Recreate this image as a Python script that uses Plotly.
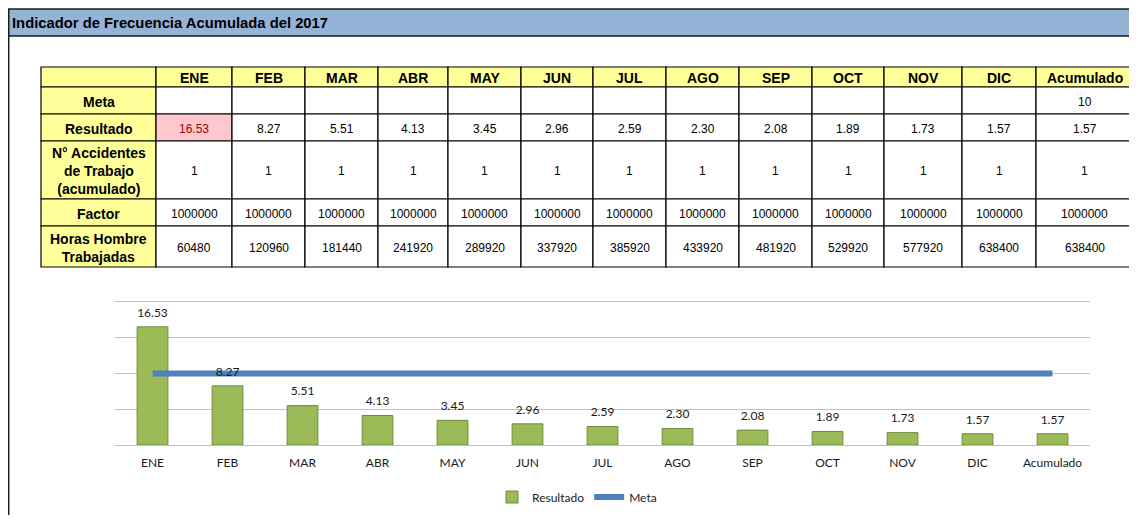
import plotly.graph_objects as go

# ---------------- data ----------------
meses = ["ENE", "FEB", "MAR", "ABR", "MAY", "JUN", "JUL", "AGO", "SEP", "OCT", "NOV", "DIC", "Acumulado"]
meta_tabla = [None, None, None, None, None, None, None, None, None, None, None, None, 10]
resultado = [16.53, 8.27, 5.51, 4.13, 3.45, 2.96, 2.59, 2.30, 2.08, 1.89, 1.73, 1.57, 1.57]
accidentes = [1, 1, 1, 1, 1, 1, 1, 1, 1, 1, 1, 1, 1]
factor = [1000000, 1000000, 1000000, 1000000, 1000000, 1000000, 1000000, 1000000, 1000000,
          1000000, 1000000, 1000000, 1000000]
horas = [60480, 120960, 181440, 241920, 289920, 337920, 385920, 433920, 481920, 529920,
         577920, 638400, 638400]
meta_grafico = [10, 10, 10, 10, 10, 10, 10, 10, 10, 10, 10, 10, 10]
etiquetas_filas = ["Meta", "Resultado", "N° Accidentes<br>de Trabajo<br>(acumulado)", "Factor",
                   "Horas Hombre<br>Trabajadas"]
titulo = "Indicador de Frecuencia Acumulada del 2017"

# ---------------- layout (page pixels) ----------------
OFF = 8                 # default body margin of the html page
W, H = 1137, 523        # browser window
FW, FH = W - 2 * OFF, H - 2 * OFF
col_edges = [41, 156, 232, 305, 378, 448, 521, 593, 666, 739, 812, 884, 962, 1036, 1133]
row_edges = [67, 87, 114, 141, 199, 226, 267]
Y_TOP = 20.5
PX_PER_UNIT = (445 - 302) / 20


def px_x(p):
    return (p - OFF) / FW


def px_y(p):
    return 1 - (p - OFF) / FH


YELLOW = "#FFFF99"
BLUE_HDR = "#95B3D7"
VAL_FONT = dict(family="Liberation Sans, Arial", size=12, color="#000000")
BOLD_FONT = dict(family="Liberation Sans, Arial", size=14, color="#000000")
CHART_FONT = dict(family="Lato, Open Sans", size=12, color="#1a1a1a")

fig = go.Figure()

# ---------------- chart ----------------
fig.add_trace(go.Bar(
    x=meses, y=resultado, name="Resultado",
    marker=dict(color="#9BBB59", line=dict(color="#6F8A3A", width=1)),
    width=0.41, xaxis="x", yaxis="y", hoverinfo="x+y"))
fig.add_trace(go.Scatter(
    x=meses, y=meta_grafico, name="Meta", mode="lines",
    line=dict(color="#4F81BD", width=6), xaxis="x", yaxis="y"))
fig.add_trace(go.Scatter(
    x=meses, y=resultado, mode="markers+text", text=[f"{v:.2f}" for v in resultado],
    marker=dict(size=10, opacity=0),
    textposition="top center", textfont=CHART_FONT,
    showlegend=False, hoverinfo="skip", xaxis="x", yaxis="y"))

# auxiliary pixel axes for the table
fig.add_trace(go.Scatter(x=[OFF], y=[OFF], mode="markers", marker=dict(opacity=0), showlegend=False,
                         hoverinfo="skip", xaxis="x2", yaxis="y2"))

shapes = []
annotations = []

# header title bar and frame
shapes.append(dict(type="rect", xref="x2", yref="y2", x0=8.7, x1=1150, y0=9, y1=36,
                   fillcolor=BLUE_HDR, line=dict(color="#1a1a1a", width=1.5), layer="above"))
shapes.append(dict(type="line", xref="x2", yref="y2", x0=8.7, x1=8.7, y0=36, y1=540,
                   line=dict(color="#1a1a1a", width=1.5)))
annotations.append(dict(xref="x2", yref="y2", x=10, y=22.5, text=f"<b>{titulo}</b>", showarrow=False,
                        xanchor="left", yanchor="middle",
                        font=dict(family="Liberation Sans, Arial", size=14.8, color="#000000")))


def cell(c, r, fill, text, font):
    x0, x1 = col_edges[c], col_edges[c + 1]
    y0, y1 = row_edges[r], row_edges[r + 1]
    shapes.append(dict(type="rect", xref="x2", yref="y2", x0=x0, x1=x1, y0=y0, y1=y1,
                       fillcolor=fill, line=dict(color="#000000", width=1.2), layer="above"))
    if text is not None and text != "":
        annotations.append(dict(xref="x2", yref="y2", x=(x0 + x1) / 2, y=(y0 + y1) / 2 + 1,
                                text=text, showarrow=False, xanchor="center", yanchor="middle",
                                font=font))


# header row
cell(0, 0, YELLOW, "", BOLD_FONT)
for i, m in enumerate(meses):
    cell(i + 1, 0, YELLOW, f"<b>{m}</b>", BOLD_FONT)

# row labels
for r, lab in enumerate(etiquetas_filas):
    cell(0, r + 1, YELLOW, f"<b>{lab}</b>", BOLD_FONT)

for i in range(len(meses)):
    mv = meta_tabla[i]
    cell(i + 1, 1, "#FFFFFF", "" if mv is None else f"{mv}", VAL_FONT)
    if i == 0:
        cell(i + 1, 2, "#FFC7CE", f"{resultado[i]:.2f}", dict(VAL_FONT, color="#9C0006"))
    else:
        cell(i + 1, 2, "#FFFFFF", f"{resultado[i]:.2f}", VAL_FONT)
    cell(i + 1, 3, "#FFFFFF", f"{accidentes[i]}", VAL_FONT)
    cell(i + 1, 4, "#FFFFFF", f"{factor[i]}", VAL_FONT)
    cell(i + 1, 5, "#FFFFFF", f"{horas[i]}", VAL_FONT)

fig.update_layout(
    width=FW, height=FH, autosize=False,
    margin=dict(l=0, r=0, t=0, b=0),
    paper_bgcolor="#FFFFFF", plot_bgcolor="rgba(0,0,0,0)",
    showlegend=True,
    legend=dict(orientation="h", x=px_x(577), xanchor="center", y=px_y(497), yanchor="middle",
                font=CHART_FONT, bgcolor="rgba(0,0,0,0)", itemwidth=30),
    xaxis=dict(domain=[px_x(115), px_x(1090)], anchor="y", showgrid=False, showline=False,
               range=[-0.5, len(meses) - 0.5],
               ticks="", zeroline=False, tickfont=CHART_FONT,
               ticklabelstandoff=9, fixedrange=True),
    yaxis=dict(domain=[px_y(445), px_y(445 - Y_TOP * PX_PER_UNIT)], anchor="x", range=[0, Y_TOP],
               tick0=0, dtick=5,
               showgrid=True, gridcolor="#BFBFBF", gridwidth=1, showticklabels=False,
               zeroline=True, zerolinecolor="#BFBFBF", zerolinewidth=1, ticks="", fixedrange=True),
    xaxis2=dict(domain=[0, 1], range=[OFF, OFF + FW], visible=False, anchor="y2", fixedrange=True),
    yaxis2=dict(domain=[0, 1], range=[OFF + FH, OFF], visible=False, anchor="x2", fixedrange=True),
    shapes=shapes, annotations=annotations,
)

fig.write_html("out.html")
